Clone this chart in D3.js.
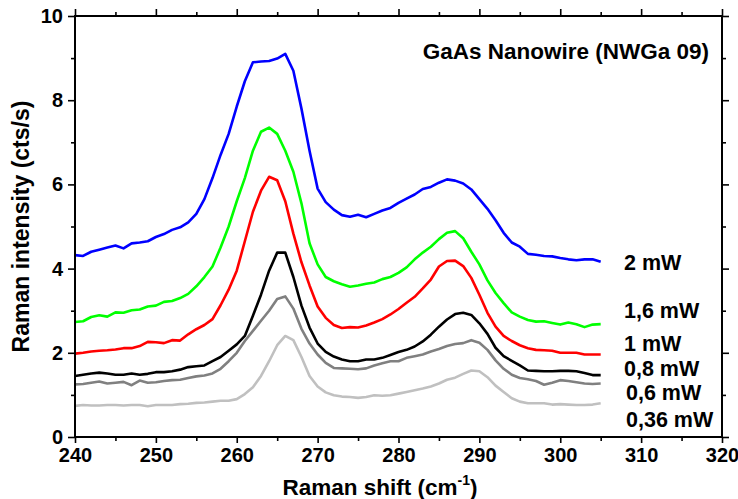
<!DOCTYPE html>
<html>
<head>
<meta charset="utf-8">
<script src="https://cdn.jsdelivr.net/npm/d3@7"></script>
<style>
  body { margin: 0; background: #fff; }
  text { font-family: "Liberation Sans", Arial, sans-serif; font-weight: bold; }
</style>
</head>
<body>
<svg id="svg" width="738" height="499"></svg>
<script>
// raman shift (cm-1), one sample per wavenumber
const shift = d3.range(240, 306);

// intensities (cts/s)
const p2mW = [4.32,4.30,4.40,4.45,4.50,4.55,4.48,4.60,4.62,4.65,4.75,4.82,4.92,4.98,5.10,5.30,5.65,6.15,6.70,7.20,
  7.85,8.45,8.90,8.92,8.93,8.99,9.10,8.70,7.80,6.80,5.90,5.58,5.40,5.27,5.23,5.28,5.22,5.30,5.38,5.44,
  5.56,5.66,5.76,5.89,5.94,6.04,6.12,6.09,6.02,5.88,5.65,5.42,5.15,4.85,4.62,4.52,4.35,4.33,4.30,4.29,
  4.25,4.22,4.20,4.22,4.22,4.16];
const p16mW = [2.73,2.75,2.85,2.89,2.86,2.96,2.95,3.01,3.03,3.10,3.12,3.21,3.23,3.30,3.40,3.58,3.80,4.05,4.50,5.00,
  5.60,6.15,6.80,7.25,7.35,7.20,6.80,6.30,5.55,4.60,4.10,3.80,3.70,3.63,3.57,3.60,3.64,3.67,3.75,3.80,
  3.90,4.03,4.22,4.38,4.52,4.70,4.85,4.89,4.72,4.40,4.10,3.72,3.42,3.18,2.96,2.86,2.78,2.74,2.75,2.71,
  2.67,2.72,2.68,2.61,2.67,2.68];
const p1mW = [1.98,2.00,2.03,2.05,2.06,2.08,2.11,2.11,2.16,2.26,2.25,2.23,2.30,2.29,2.44,2.56,2.66,2.80,3.13,3.50,
  3.95,4.65,5.35,5.85,6.18,6.10,5.60,4.83,4.15,3.60,3.10,2.83,2.66,2.59,2.61,2.60,2.65,2.72,2.80,2.91,
  3.04,3.19,3.33,3.53,3.74,4.05,4.18,4.19,4.06,3.78,3.38,2.95,2.62,2.40,2.28,2.18,2.11,2.07,2.06,2.05,
  2.00,2.00,2.00,1.96,1.96,1.96];
const p08mW = [1.45,1.48,1.51,1.53,1.51,1.48,1.48,1.51,1.48,1.50,1.54,1.54,1.56,1.60,1.66,1.68,1.70,1.80,1.90,2.05,
  2.20,2.40,2.88,3.38,3.95,4.38,4.38,3.80,3.12,2.60,2.22,2.02,1.91,1.84,1.80,1.80,1.84,1.84,1.88,1.95,
  2.02,2.07,2.15,2.27,2.43,2.62,2.79,2.92,2.95,2.90,2.70,2.45,2.12,1.92,1.81,1.70,1.58,1.57,1.56,1.56,
  1.57,1.57,1.56,1.52,1.47,1.47];
const p06mW = [1.25,1.26,1.29,1.32,1.27,1.29,1.31,1.23,1.34,1.29,1.30,1.33,1.35,1.36,1.40,1.44,1.46,1.51,1.62,1.80,
  2.00,2.28,2.52,2.76,3.00,3.28,3.34,3.05,2.57,2.22,1.96,1.76,1.64,1.63,1.62,1.61,1.63,1.70,1.75,1.80,
  1.80,1.88,1.92,1.96,2.03,2.09,2.16,2.21,2.23,2.30,2.24,2.07,1.82,1.62,1.48,1.40,1.37,1.33,1.24,1.29,
  1.35,1.33,1.30,1.27,1.26,1.27];
const p036mW = [0.74,0.76,0.75,0.75,0.76,0.76,0.75,0.76,0.76,0.73,0.76,0.76,0.76,0.78,0.79,0.81,0.82,0.84,0.86,0.86,
  0.90,1.02,1.18,1.45,1.80,2.18,2.40,2.30,1.90,1.45,1.20,1.06,0.99,0.96,0.95,0.93,0.95,0.99,0.98,0.99,
  1.03,1.07,1.11,1.15,1.20,1.27,1.36,1.41,1.50,1.58,1.56,1.42,1.22,1.07,0.92,0.84,0.80,0.80,0.80,0.77,
  0.78,0.77,0.76,0.76,0.77,0.80];

const powerLabels = ["2 mW", "1,6 mW", "1 mW", "0,8 mW", "0,6 mW", "0,36 mW"];
const colors = ["#0000ff", "#00ff00", "#ff0000", "#000000", "#808080", "#c0c0c0"];
const seriesVals = [p2mW, p16mW, p1mW, p08mW, p06mW, p036mW];

const xTicks = [240, 250, 260, 270, 280, 290, 300, 310, 320];
const yTicks = [0, 2, 4, 6, 8, 10];
const chartTitle = "GaAs Nanowire (NWGa 09)";

// layout
const dims = { width: 738, height: 499 };
const margins = { left: 75, right: 16, top: 16, bottom: 62 };
const x0 = margins.left, x1 = dims.width - margins.right;
const y0 = dims.height - margins.bottom, y1 = margins.top;

let xScale = d3.scaleLinear().domain([240, 320]).range([x0, x1]);
let yScale = d3.scaleLinear().domain([0, 10]).range([y0, y1]);

let mySvg = d3.select('#svg');

// lines
let line = d3.line()
  .x((d, i) => xScale(shift[i]))
  .y(d => yScale(d));

mySvg.append("g").selectAll("path")
  .data(seriesVals)
  .join("path")
  .attr("d", d => line(d))
  .attr("fill", "none")
  .attr("stroke", (d, i) => colors[i])
  .attr("stroke-width", 2.6)
  .attr("stroke-linejoin", "round");

// axes: major + minor ticks on all four sides
const xMinor = d3.range(245, 320, 10);
const yMinor = d3.range(1, 10, 2);

function styleAxis(g) {
  g.select(".domain").remove();
  g.selectAll("line").attr("stroke", "#000").attr("stroke-width", 1.6);
  g.selectAll("text").attr("font-size", 20).attr("fill", "#000")
    .style("font-family", '"Liberation Sans", Arial, sans-serif').style("font-weight", "bold");
}

// bottom
mySvg.append("g").attr("transform", `translate(0,${y0})`)
  .call(d3.axisBottom(xScale).tickValues(xTicks).tickSize(6).tickPadding(5).tickFormat(d3.format("d")))
  .call(styleAxis);
mySvg.append("g").attr("transform", `translate(0,${y0})`)
  .call(d3.axisBottom(xScale).tickValues(xMinor).tickSize(4).tickFormat(""))
  .call(styleAxis);
// top
mySvg.append("g").attr("transform", `translate(0,${y1})`)
  .call(d3.axisTop(xScale).tickValues(xTicks).tickSize(7).tickFormat(""))
  .call(styleAxis);
mySvg.append("g").attr("transform", `translate(0,${y1})`)
  .call(d3.axisTop(xScale).tickValues(xMinor).tickSize(4).tickFormat(""))
  .call(styleAxis);
// left
mySvg.append("g").attr("transform", `translate(${x0},0)`)
  .call(d3.axisLeft(yScale).tickValues(yTicks).tickSize(7).tickPadding(5).tickFormat(d3.format("d")))
  .call(styleAxis);
mySvg.append("g").attr("transform", `translate(${x0},0)`)
  .call(d3.axisLeft(yScale).tickValues(yMinor).tickSize(4).tickFormat(""))
  .call(styleAxis);
// right
mySvg.append("g").attr("transform", `translate(${x1},0)`)
  .call(d3.axisRight(yScale).tickValues(yTicks).tickSize(7).tickFormat(""))
  .call(styleAxis);
mySvg.append("g").attr("transform", `translate(${x1},0)`)
  .call(d3.axisRight(yScale).tickValues(yMinor).tickSize(4).tickFormat(""))
  .call(styleAxis);

// frame
mySvg.append("rect")
  .attr("x", x0).attr("y", y1)
  .attr("width", x1 - x0).attr("height", y0 - y1)
  .attr("fill", "none").attr("stroke", "#000").attr("stroke-width", 2);

// title inside plot
mySvg.append("text")
  .attr("x", 709).attr("y", 59)
  .attr("text-anchor", "end")
  .attr("font-size", 22.5)
  .text(chartTitle);

// power labels next to the curve ends
const labelPos = [[624, 270], [624, 318], [624, 351], [624, 376], [626, 400], [626, 427]];
mySvg.append("g").selectAll("text")
  .data(powerLabels)
  .join("text")
  .attr("x", (d, i) => labelPos[i][0])
  .attr("y", (d, i) => labelPos[i][1])
  .attr("font-size", 21.5)
  .text(d => d);

// axis titles
let xt = mySvg.append("text")
  .attr("x", 380).attr("y", 495)
  .attr("text-anchor", "middle")
  .attr("font-size", 22.5);
xt.append("tspan").text("Raman shift (cm");
xt.append("tspan").attr("font-size", 14).attr("dy", -10).text("-1");
xt.append("tspan").attr("dy", 10).text(")");

mySvg.append("text")
  .attr("transform", `translate(29,${(y0 + y1) / 2}) rotate(-90)`)
  .attr("text-anchor", "middle")
  .attr("font-size", 23)
  .text("Raman intensity (cts/s)");
</script>
</body>
</html>
